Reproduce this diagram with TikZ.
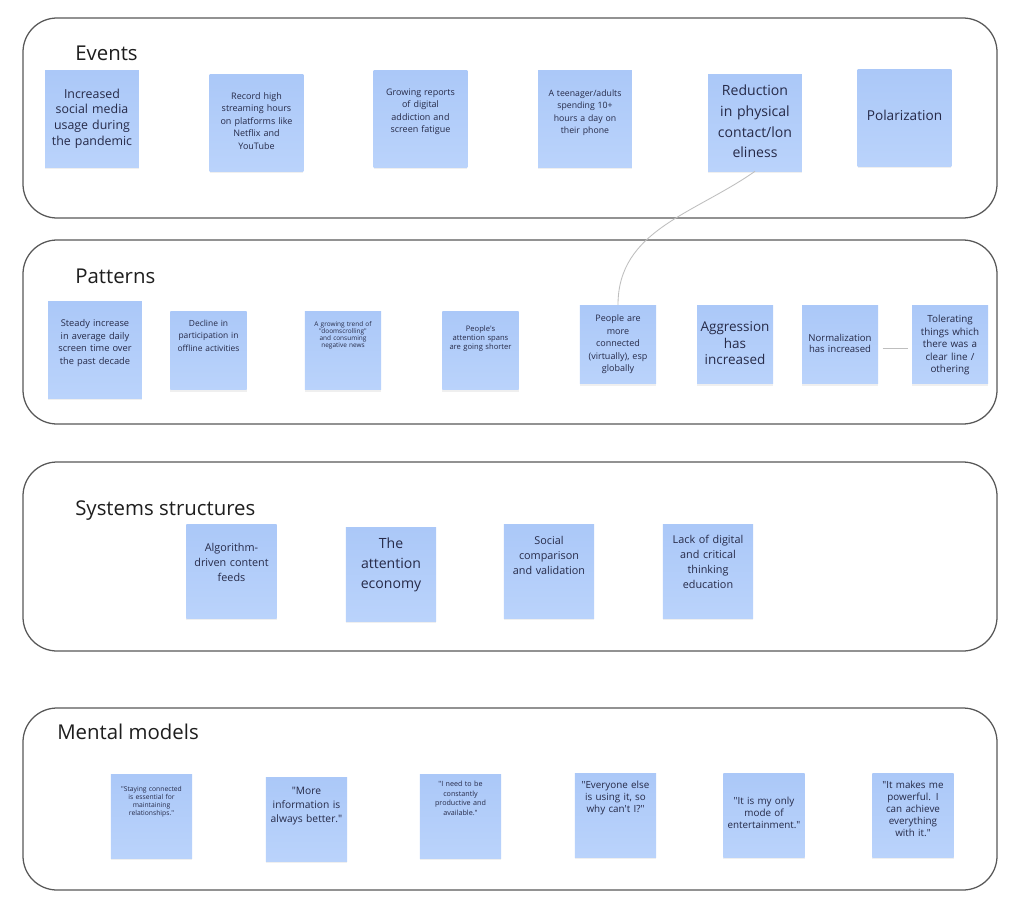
\documentclass[tikz,border=0pt]{standalone}
\usepackage{fontspec}
\setmainfont{Open Sans}[Ligatures=TeXOff]
\usetikzlibrary{shadows}
\definecolor{noteblue}{RGB}{171,200,248}
\definecolor{notelight}{RGB}{186,211,251}
\definecolor{notetext}{RGB}{38,42,72}
\definecolor{framegray}{RGB}{88,88,88}
\definecolor{linkgray}{RGB}{190,190,190}
\definecolor{titleblack}{RGB}{30,30,30}

\begin{document}
\begin{tikzpicture}[x=0.025cm,y=-0.025cm,
      noteh/.initial=2.4cm,
      fnt/.style 2 args={font=\fontsize{#1}{#2}\selectfont},
      note/.style={top color=noteblue,bottom color=notelight,text=notetext,
        align=center,inner xsep=0.05cm,inner ysep=0pt,
        drop shadow={shadow xshift=0pt,shadow yshift=-1.2pt,opacity=0.12}},
      texttop/.style={text height=#1,text depth={\pgfkeysvalueof{/tikz/noteh}-#1}},
      ev/.style={note,noteh=2.4cm,text width=2.24cm},
      pat/.style={note,noteh=1.97cm,text width=1.8cm},
      sys/.style={note,noteh=2.33cm,text width=2.16cm},
      mm/.style={note,noteh=2.1cm,text width=1.93cm},
      title/.style={anchor=base west,inner sep=0pt,text=titleblack,fnt={14.5}{17}},
      panel/.style={draw=framegray,line width=0.9pt,rounded corners=0.85cm},
      link/.style={draw=linkgray,line width=0.6pt}]
  \fill[white] (0,0) rectangle (1024,914);
  \useasboundingbox (0,0) rectangle (1024,914);

  % the four layers
  \draw[panel] (23,18) rectangle (997,218);
  \draw[panel] (23,240) rectangle (997,424);
  \draw[panel] (23,462) rectangle (997,651);
  \draw[panel] (23,708) rectangle (997,890);

  \node[title] (tev) at (75,60) {Events};
  \node[title] (tpat) at (75,283) {Patterns};
  \node[title] (tsys) at (75,515) {Systems structures};
  \node[title] (tmm) at (57,739) {Mental models};

  % events
  \node[ev,texttop=0.68cm,fnt={8.8}{11.2}] (e1) at (92,119) {Increased\\social media\\usage during\\the pandemic};
  \node[ev,texttop=0.61cm,fnt={6.4}{8.9}] (e2) at (256.5,123) {Record high\\streaming hours\\on platforms like\\Netflix and\\YouTube};
  \node[ev,texttop=0.61cm,fnt={6.4}{8.9}] (e3) at (420.5,119) {Growing reports\\of digital\\addiction and\\screen fatigue};
  \node[ev,texttop=0.635cm,fnt={6.2}{8.9}] (e4) at (585,119) {A teenager/adults\\spending 10+\\hours a day on\\their phone};
  \node[ev,texttop=0.52cm,fnt={10}{14.7}] (e5) at (755,123) {Reduction\\in physical\\contact/lon\\eliness};
  \node[ev,texttop=1.27cm,fnt={9.7}{11.5}] (e6) at (904.5,118) {Polarization};

  % patterns
  \node[ev,texttop=0.61cm,fnt={6.6}{9}] (p1) at (95,350) {Steady increase\\in average daily\\screen time over\\the past decade};
  \node[pat,texttop=0.38cm,fnt={6}{9}] (p2) at (208.5,350.5) {Decline in\\participation in\\offline activities};
  \node[pat,texttop=0.39cm,fnt={4.6}{5}] (p3) at (343,350.5) {A growing trend of\\"doomscrolling"\\and consuming\\negative news};
  \node[pat,texttop=0.5cm,fnt={5.4}{6.5}] (p4) at (480.5,350.5) {People's\\attention spans\\are going shorter};
  \node[pat,texttop=0.41cm,fnt={6.4}{8.9}] (p5) at (618,344.5) {People are\\more\\connected\\(virtually), esp\\globally};
  \node[pat,texttop=0.665cm,fnt={9.6}{11.7}] (p6) at (735,344.5) {Aggression\\has\\increased};
  \node[pat,texttop=0.915cm,fnt={6.8}{8}] (p7) at (840,344.5) {Normalization\\has increased};
  \node[pat,texttop=0.44cm,fnt={7}{8.9}] (p8) at (950,344.5) {Tolerating\\things which\\there was a\\clear line /\\othering};

  % system structures
  \node[sys,texttop=0.67cm,fnt={7.7}{10.7}] (s1) at (231.5,571.5) {Algorithm-\\driven content\\feeds};
  \node[sys,texttop=0.52cm,fnt={10}{14.2}] (s2) at (391,574.5) {The\\attention\\economy};
  \node[sys,texttop=0.5cm,fnt={7.7}{10.7}] (s3) at (549,571.5) {Social\\comparison\\and validation};
  \node[sys,texttop=0.47cm,fnt={7.7}{10.7}] (s4) at (708,571.5) {Lack of digital\\and critical\\thinking\\education};

  % mental models
  \node[mm,texttop=0.445cm,fnt={4.8}{5.7}] (m1) at (151.5,816) {"Staying connected\\is essential for\\maintaining\\relationships."};
  \node[mm,texttop=0.445cm,fnt={7.3}{10}] (m2) at (306.5,819) {"More\\information is\\always better."};
  \node[mm,texttop=0.32cm,fnt={5.1}{6.7}] (m3) at (460.5,816) {"I need to be\\constantly\\productive and\\available."};
  \node[mm,texttop=0.39cm,fnt={7}{8.6}] (m4) at (615.5,815) {"Everyone else\\is using it, so\\why can't I?"};
  \node[mm,texttop=0.79cm,fnt={7}{8.6}] (m5) at (764,815) {"It is my only\\mode of\\entertainment."};
  \node[mm,texttop=0.39cm,fnt={7}{8.6}] (m6) at (913,815) {"It makes me\\powerful. I\\can achieve\\everything\\with it."};

  % links
  \draw[link] (e5.south) to[out=215,in=90] (p5.north);
  \draw[link,shorten <=3pt,shorten >=3pt] ([yshift=-2.5pt]p7.east) -- ([yshift=-2.5pt]p8.west);
\end{tikzpicture}
\end{document}
